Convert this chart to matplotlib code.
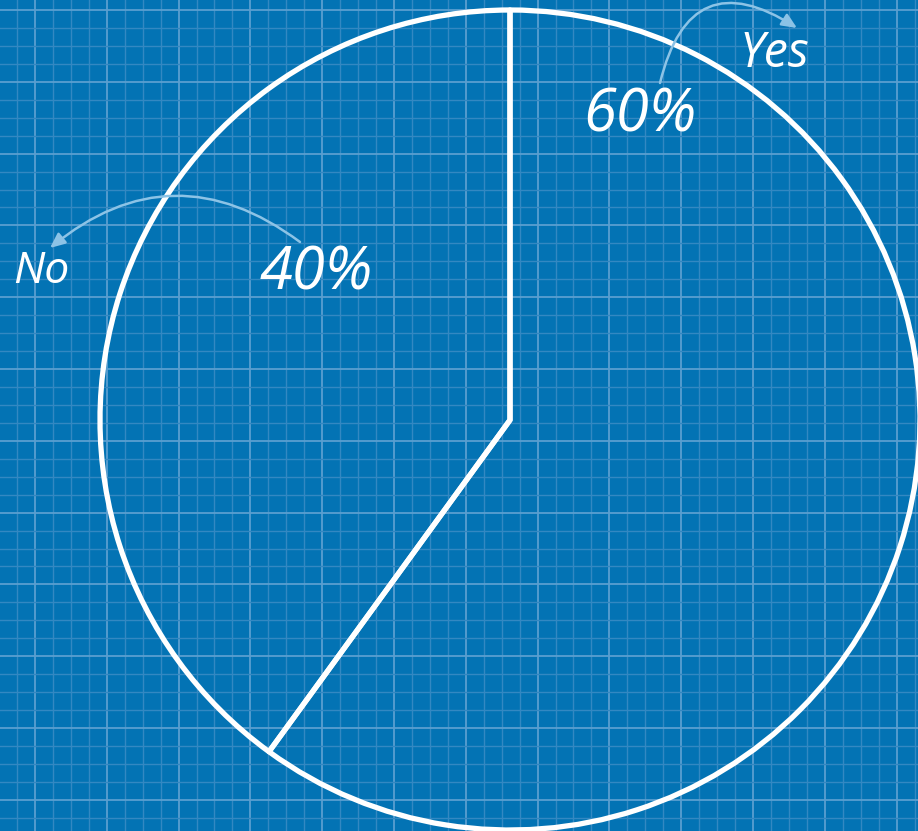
import matplotlib.pyplot as plt
import numpy as np

# data
labels = ['Yes', 'No']
valores = [60, 40]
etiquetas_pct = ['60%', '40%']

W, H = 918, 831
fondo = '#0373b4'
linea_menor = '#3388c2'
linea_mayor = '#5a9fd0'

fig = plt.figure(figsize=(W / 100, H / 100), dpi=100)
fig.patch.set_facecolor(fondo)

# fondo tipo plano con cuadricula
bg = fig.add_axes([0, 0, 1, 1])
bg.set_xlim(0, W)
bg.set_ylim(H, 0)
bg.set_facecolor(fondo)
bg.axis('off')
paso = 17.95
for k in range(60):
    x = 17 + paso * k
    if x > W:
        break
    mayor = (k % 4 == 1)
    bg.axvline(x, color=linea_mayor if mayor else linea_menor, lw=1.3 if mayor else 1.0, zorder=0)
for k in range(60):
    y = 10 + paso * k
    if y > H:
        break
    mayor = (k % 4 == 0)
    bg.axhline(y, color=linea_mayor if mayor else linea_menor, lw=1.3 if mayor else 1.0, zorder=0)

# pie (coordenadas en pixeles, y hacia arriba)
ax = fig.add_axes([0, 0, 1, 1])
ax.patch.set_alpha(0)

wedges, _ = ax.pie(valores, center=(510, H - 420), radius=410, startangle=90,
                   counterclock=False, frame=True,
                   wedgeprops=dict(fill=False, edgecolor='white', linewidth=3.8,
                                   joinstyle='round'))
for w in wedges:
    w.set_clip_on(False)
ax.set_xlim(0, W)
ax.set_ylim(0, H)
ax.axis('off')

fuente = 'Open Sans'
txt = dict(color='white', style='italic', family=fuente)
ax.text(740, H - 67, labels[0], fontsize=35, ha='left', va='baseline', **txt)
ax.text(583, H - 131, etiquetas_pct[0], fontsize=43, ha='left', va='baseline', **txt)
ax.text(13, H - 283, labels[1], fontsize=32, ha='left', va='baseline', **txt)
ax.text(260, H - 290, etiquetas_pct[1], fontsize=43, ha='left', va='baseline', **txt)

flecha = dict(arrowstyle='-|>,head_length=0.9,head_width=0.4', color='#8cc3e6',
              lw=1.8, shrinkA=0, shrinkB=0)
ax.annotate('', xy=(797, H - 28), xytext=(660, H - 83),
            arrowprops=dict(connectionstyle='arc3,rad=-0.7', **flecha))
ax.annotate('', xy=(50, H - 248), xytext=(300, H - 242),
            arrowprops=dict(connectionstyle='arc3,rad=0.39', **flecha))

fig.savefig('out.png', dpi=100, facecolor=fondo)
